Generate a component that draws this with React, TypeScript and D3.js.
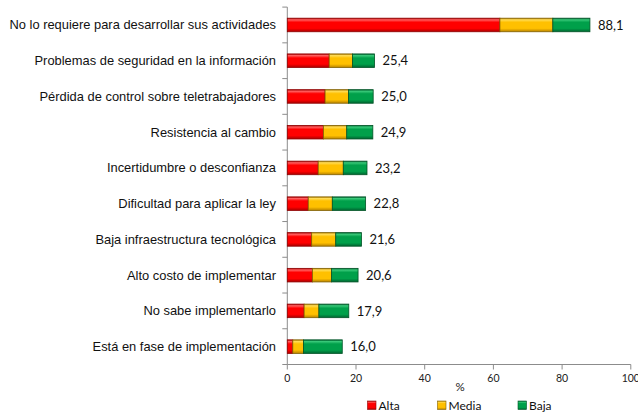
import React from "react";
import * as d3 from "d3";

const categories = [
  "No lo requiere para desarrollar sus actividades",
  "Problemas de seguridad en la información",
  "Pérdida de control sobre teletrabajadores",
  "Resistencia al cambio",
  "Incertidumbre o desconfianza",
  "Dificultad para aplicar la ley",
  "Baja infraestructura tecnológica",
  "Alto costo de implementar",
  "No sabe implementarlo",
  "Está en fase de implementación",
];
const alta = [61.9, 12.2, 11.0, 10.5, 9.0, 6.1, 7.1, 7.3, 4.9, 1.6];
const media = [15.4, 6.8, 6.8, 6.8, 7.3, 7.0, 7.0, 5.6, 4.3, 3.1];
const baja = [10.8, 6.4, 7.2, 7.6, 6.9, 9.7, 7.5, 7.7, 8.7, 11.3];
const totals = ["88,1", "25,4", "25,0", "24,9", "23,2", "22,8", "21,6", "20,6", "17,9", "16,0"];
const xTicks = [0, 20, 40, 60, 80, 100];
const seriesNames = ["Alta", "Media", "Baja"];

const W = 638, H = 414;
const left = 287.3, right = 630.8, top = 7.1, bottom = 364.5;

const colors = [
  { id: "gAlta", base: "#ff0000", light: "#ff6060", dark: "#a80000", stroke: "#900000" },
  { id: "gMedia", base: "#ffc000", light: "#ffdc55", dark: "#b88200", stroke: "#806000" },
  { id: "gBaja", base: "#00a04a", light: "#38c878", dark: "#006430", stroke: "#005426" },
];

export default function App() {
  const x = d3.scaleLinear().domain([0, 100]).range([left, right]);
  const y = d3.scaleBand<string>().domain(categories).range([top, bottom]).paddingInner(0.62).paddingOuter(0.31);
  const series = [alta, media, baja];
  const stacked = categories.map((c, i) => {
    let acc = 0;
    return series.map((s, k) => {
      const x0 = acc;
      acc += s[i];
      return { k, x0, x1: acc };
    });
  });
  const step = y.step();
  const boundaries = d3.range(categories.length + 1).map((i) => top + i * step);
  const axisColor = "#8c8c8c";
  return (
    <svg width={W} height={H} style={{ position: "absolute", left: 0, top: 0, background: "#fff" }}>
      <defs>
        {colors.map((c) => (
          <linearGradient key={c.id} id={c.id} x1="0" y1="0" x2="0" y2="1">
            <stop offset="0" stopColor={c.dark} />
            <stop offset="0.12" stopColor={c.light} />
            <stop offset="0.3" stopColor={c.base} />
            <stop offset="0.75" stopColor={c.base} />
            <stop offset="1" stopColor={c.dark} />
          </linearGradient>
        ))}
      </defs>
      <line x1={left} x2={left} y1={top} y2={bottom} stroke={axisColor} strokeWidth={1} />
      {boundaries.map((b, i) => (
        <line key={i} x1={left - 5} x2={left} y1={b} y2={b} stroke={axisColor} strokeWidth={1} />
      ))}
      <line x1={left} x2={right} y1={bottom} y2={bottom} stroke={axisColor} strokeWidth={1} />
      {xTicks.map((t) => (
        <g key={t}>
          <line x1={x(t)} x2={x(t)} y1={bottom} y2={bottom + 5} stroke={axisColor} strokeWidth={1} />
          <text x={x(t)} y={bottom + 17} textAnchor="middle" fontFamily="Lato, 'Open Sans', sans-serif" fontSize={10.5} fill="#222">
            {t}
          </text>
        </g>
      ))}
      <text x={460} y={391} textAnchor="middle" fontFamily="Lato, 'Open Sans', sans-serif" fontSize={11.5} fill="#222">%</text>
      {categories.map((c, i) => {
        const by = y(c)!;
        const bh = y.bandwidth();
        return (
          <g key={c}>
            <text x={276} y={by + bh / 2} dy="0.35em" textAnchor="end" fontFamily="'Liberation Sans', Arial, sans-serif" fontSize={12.9} fill="#111">
              {c}
            </text>
            {stacked[i].map((s) => (
              <rect key={s.k} x={x(s.x0)} y={by} width={x(s.x1) - x(s.x0)} height={bh}
                fill={`url(#${colors[s.k].id})`} stroke={colors[s.k].stroke} strokeWidth={0.8} />
            ))}
            <text x={x(stacked[i][2].x1) + 8} y={by + bh / 2} dy="0.36em" fontFamily="Lato, 'Open Sans', sans-serif" fontSize={13} fill="#111">
              {totals[i]}
            </text>
          </g>
        );
      })}
      {seriesNames.map((n, k) => {
        const lx = [367.5, 437.5, 518][k];
        return (
          <g key={n}>
            <rect x={lx} y={401} width={8.5} height={8.5} fill={`url(#${colors[k].id})`} stroke={colors[k].stroke} strokeWidth={0.6} />
            <text x={lx + 11} y={409.5} fontFamily="Lato, 'Open Sans', sans-serif" fontSize={12} fill="#111">{n}</text>
          </g>
        );
      })}
    </svg>
  );
}
